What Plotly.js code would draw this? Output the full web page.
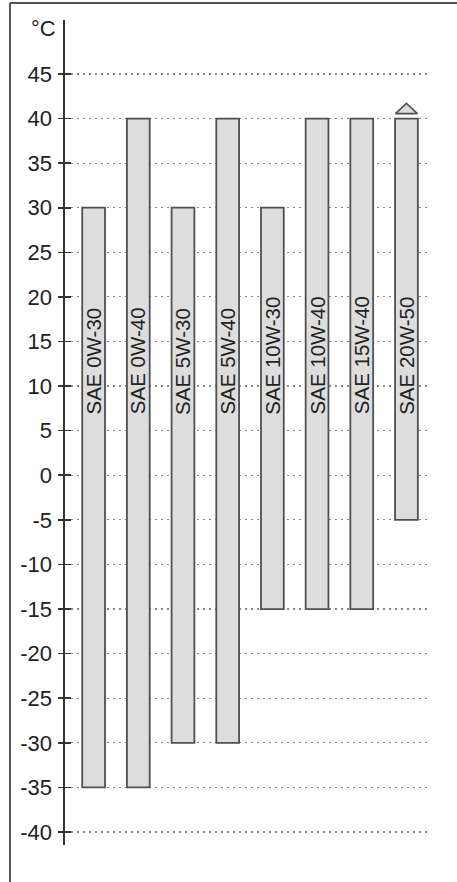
<!DOCTYPE html>
<html>
<head>
<meta charset="utf-8">
<script src="https://cdn.plot.ly/plotly-3.0.1.min.js"></script>
<style>html,body{margin:0;padding:0;background:#fff;}#chart{width:457px;height:882px;}</style>
</head>
<body>
<div id="chart"></div>
<script>
// Data
var grades = ['SAE 0W-30','SAE 0W-40','SAE 5W-30','SAE 5W-40','SAE 10W-30','SAE 10W-40','SAE 15W-40','SAE 20W-50'];
var lowTemp = [-35, -35, -30, -30, -15, -15, -15, -5];
var highTemp = [30, 40, 30, 40, 30, 40, 40, 40];
var openTop = [false, false, false, false, false, false, false, true];
var yTicks = [-40, -35, -30, -25, -20, -15, -10, -5, 0, 5, 10, 15, 20, 25, 30, 35, 40, 45];
var yTickText = yTicks.map(String);
var unitLabel = '°C';
var labelStartTemp = 6.6;

var FONT = '"Liberation Sans", Arial, Helvetica, sans-serif';
var idx = grades.map(function(_, i){ return i; });

var traces = [{
  type: 'bar',
  x: idx,
  y: highTemp.map(function(h, i){ return h - lowTemp[i]; }),
  base: lowTemp,
  width: 0.51,
  marker: {color: '#dddddd', line: {color: '#505050', width: 1.8}},
  hoverinfo: 'skip',
  showlegend: false
}];

// open-top triangles
idx.forEach(function(i){
  if (openTop[i]) {
    var h = highTemp[i];
    traces.push({
      type: 'scatter', mode: 'lines',
      x: [i - 0.245, i, i + 0.245, i - 0.245],
      y: [h + 0.55, h + 1.7, h + 0.55, h + 0.55],
      fill: 'toself', fillcolor: '#dddddd',
      line: {color: '#505050', width: 1.6},
      hoverinfo: 'skip', showlegend: false
    });
  }
});

// carrier for the inside tick marks (ticks cross the axis)
traces.push({
  type: 'scatter', mode: 'markers', x: [], y: [], yaxis: 'y2', xaxis: 'x',
  showlegend: false, hoverinfo: 'skip'
});

var annotations = grades.map(function(g, i){
  return {
    x: i, y: labelStartTemp, xref: 'x', yref: 'y',
    text: g, textangle: -90, showarrow: false,
    xanchor: 'center', yanchor: 'bottom',
    font: {family: FONT, size: 20.5, color: '#222'}
  };
});
annotations.push({
  x: -0.02, y: 0.99, xref: 'paper', yref: 'paper',
  text: unitLabel, showarrow: false, xanchor: 'right', yanchor: 'middle',
  font: {family: FONT, size: 22, color: '#222'}
});

var yRange = [-41.46, 51.05];

var layout = {
  width: 457, height: 882,
  margin: {l: 65, r: 30, t: 20, b: 37},
  paper_bgcolor: '#fff', plot_bgcolor: '#fff',
  font: {family: FONT, size: 20, color: '#222'},
  xaxis: {visible: false, range: [-0.64, 7.46], fixedrange: true},
  yaxis: {
    range: yRange, tickvals: yTicks, ticktext: yTickText,
    showline: true, linecolor: '#333', linewidth: 2.5,
    ticks: 'outside', ticklen: 5, tickwidth: 1.6, tickcolor: '#333',
    ticklabelstandoff: 1,
    showgrid: true, gridcolor: '#888', griddash: '2px,4px', gridwidth: 1.2,
    zeroline: false,
    tickfont: {family: FONT, size: 22, color: '#222'}
  },
  yaxis2: {
    overlaying: 'y', side: 'left', anchor: 'x',
    range: yRange, tickvals: yTicks,
    ticks: 'inside', ticklen: 6, tickwidth: 1.6, tickcolor: '#333',
    showticklabels: false, showgrid: false, showline: false, zeroline: false
  },
  annotations: annotations,
  shapes: [
    {type: 'line', xref: 'paper', yref: 'paper', x0: -0.152, x1: 1.2, y0: 1.0206, y1: 1.0206, line: {color: '#555', width: 2}},
    {type: 'line', xref: 'paper', yref: 'paper', x0: -0.152, x1: -0.152, y0: 1.0206, y1: -0.06, line: {color: '#555', width: 2}}
  ],
  showlegend: false
};

Plotly.newPlot('chart', traces, layout, {staticPlot: true, displayModeBar: false});
</script>
</body>
</html>
